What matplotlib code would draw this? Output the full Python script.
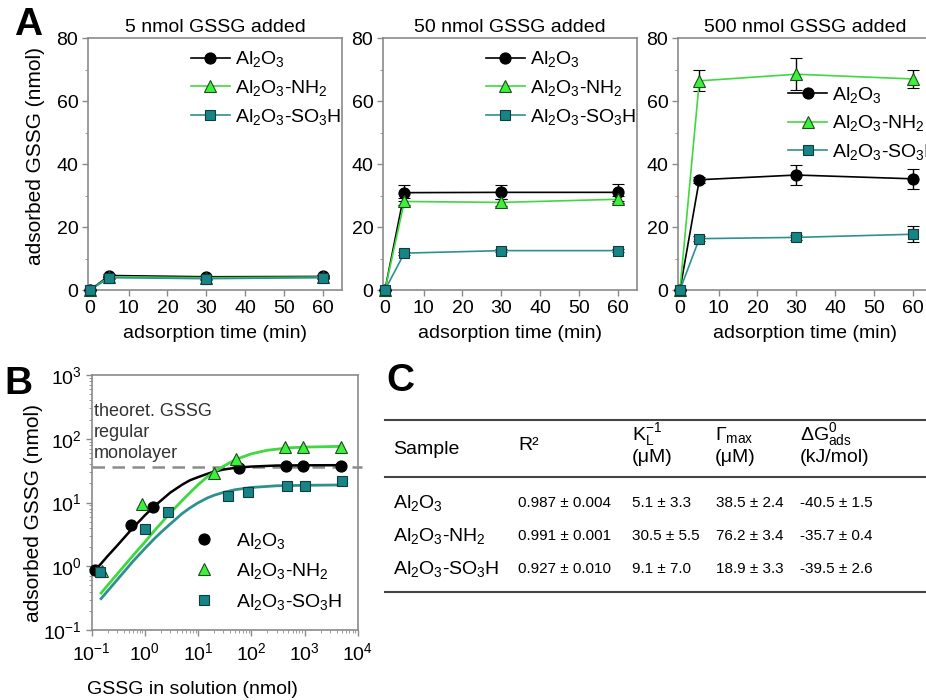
import numpy as np
import matplotlib
matplotlib.use('Agg')
import matplotlib.pyplot as plt
from matplotlib.lines import Line2D
from matplotlib.ticker import MultipleLocator, LogLocator, NullFormatter

plt.rcParams['font.family'] = ['Liberation Sans', 'DejaVu Sans']
plt.rcParams['mathtext.default'] = 'regular'
plt.rcParams['font.size'] = 14

W, H = 926, 700

# ---- data panel A (adsorbed GSSG vs time) ----
time_min = [0, 5, 30, 60]
added_nmol = ['5', '50', '500']
al2o3_a = [[0, 4.6, 4.2, 4.3], [0, 30.9, 31.0, 31.0], [0, 35.0, 36.5, 35.3]]
al2o3_err = [[0, 0.4, 0.4, 0.4], [0, 2.5, 2.2, 2.6], [0, 1.0, 3.2, 3.2]]
nh2_a = [[0, 4.2, 3.9, 4.1], [0, 28.1, 27.8, 28.8], [0, 66.4, 68.5, 67.0]]
nh2_err = [[0, 0.4, 0.4, 0.4], [0, 1.2, 1.2, 1.2], [0, 3.3, 5.0, 3.0]]
so3h_a = [[0, 3.9, 3.6, 3.9], [0, 11.7, 12.5, 12.5], [0, 16.3, 16.7, 17.7]]
so3h_err = [[0, 0.3, 0.3, 0.3], [0, 0.5, 0.5, 0.5], [0, 0.8, 0.8, 2.5]]

# ---- data panel B (isotherm) ----
al2o3_x = [0.115, 0.54, 1.39, 60, 453, 933, 4870]
al2o3_y = [0.865, 4.46, 8.55, 34.2, 37.7, 37.7, 37.3]
nh2_x = [0.154, 0.866, 19.7, 52, 433, 933, 4870]
nh2_y = [0.84, 9.4, 29.3, 48, 73, 75, 73]
so3h_x = [0.145, 1.0, 2.74, 36.5, 86.6, 473, 1000, 5080]
so3h_y = [0.82, 3.9, 7.1, 12.6, 14.4, 18.1, 18.2, 21.9]

# fitted curves
al2o3_fx = [0.11, 0.15, 0.2, 0.3, 0.5, 0.7, 1, 1.5, 2, 3, 5, 7, 10, 15, 20, 30, 50,
            100, 300, 1000, 5000]
al2o3_fy = [0.83, 1.1, 1.45, 2.1, 3.4, 4.6, 6.3, 8.7, 10.7, 14.3, 19, 22.3, 25, 28.2,
            30.5, 32.9, 35, 36.6, 38, 38.3, 38.5]
nh2_fx = [0.15, 0.3, 0.6, 1, 1.5, 2, 3, 5, 7, 10, 15, 20, 30, 50, 100, 200, 500, 1000,
          5000]
nh2_fy = [0.38, 0.75, 1.48, 2.4, 3.6, 4.7, 6.9, 10.7, 14.2, 19, 25.4, 30, 37, 47, 58,
          66, 72, 74, 76]
so3h_fx = [0.15, 0.3, 0.6, 1, 1.5, 2, 3, 5, 7, 10, 15, 20, 30, 50, 100, 300, 1000, 5000]
so3h_fy = [0.31, 0.61, 1.2, 1.9, 2.7, 3.4, 4.6, 6.7, 8.2, 9.9, 11.8, 13, 14.4, 15.9,
           17.2, 18.3, 18.6, 18.85]
monolayer = 35.5

# ---- table panel C ----
samples = ['Al$_2$O$_3$', 'Al$_2$O$_3$-NH$_2$', 'Al$_2$O$_3$-SO$_3$H']
r2 = ['0.987 ± 0.004', '0.991 ± 0.001', '0.927 ± 0.010']
kl_inv = ['5.1 ± 3.3', '30.5 ± 5.5', '9.1 ± 7.0']
gamma_max = ['38.5 ± 2.4', '76.2 ± 3.4', '18.9 ± 3.3']
dg_ads = ['-40.5 ± 1.5', '-35.7 ± 0.4', '-39.5 ± 2.6']

# styles
line_col = ['black', '#3fd83f', '#2f9090']
face_col = ['black', '#3cf03c', '#178585']
edge_col = ['black', '#1d4d1d', '#123c3c']
markers = ['o', '^', 's']
msizes = [8, 8.5, 7.5]
spine_col = '#8a8a8a'


def px(x, y):
    return x / W, 1 - y / H


fig = plt.figure(figsize=(W / 100, H / 100), dpi=100)


def style_box(ax):
    for s in ax.spines.values():
        s.set_color(spine_col)
        s.set_linewidth(1.2)
    ax.tick_params(direction='out', color=spine_col, length=4, width=1, pad=3)
    ax.tick_params(which='minor', direction='out', color=spine_col, length=2)


# ---- panel A ----
a_left = [88, 383, 678]
for i in range(3):
    ax = fig.add_axes([a_left[i] / W, 1 - 290 / H, 254 / W, 252 / H])
    series = [(al2o3_a[i], al2o3_err[i]), (nh2_a[i], nh2_err[i]), (so3h_a[i], so3h_err[i])]
    for k, (vals, err) in enumerate(series):
        ax.errorbar(time_min, vals, yerr=err, fmt=markers[k] + '-', color=line_col[k],
                    mfc=face_col[k], mec=edge_col[k], mew=0.8, ms=msizes[k], lw=1.2,
                    ecolor='black', elinewidth=1, capsize=4, capthick=1,
                    label=samples[k], zorder=3 + k, clip_on=False)
    ax.set_xlim(-0.5, 65)
    ax.set_ylim(0, 80)
    ax.xaxis.set_major_locator(MultipleLocator(10))
    ax.yaxis.set_major_locator(MultipleLocator(20))
    ax.yaxis.set_minor_locator(MultipleLocator(10))
    style_box(ax)
    ax.set_title(added_nmol[i] + ' nmol GSSG added', fontsize=14, pad=4)
    ax.set_xlabel('adsorption time (min)', fontsize=14)
    ax.xaxis.set_label_coords(0.5, -0.14)
    if i == 0:
        ax.set_ylabel('adsorbed GSSG (nmol)', fontsize=15)
        ax.yaxis.set_label_coords(-0.17, 0.53)
        leg_pos = (0.405, 0.955)
    elif i == 1:
        leg_pos = (0.405, 0.955)
    else:
        leg_pos = (0.435, 0.815)
    handles = [Line2D([], [], color=line_col[k], marker=markers[k], mfc=face_col[k],
                      mec=edge_col[k], mew=0.8, ms=msizes[k], lw=1.2) for k in range(3)]
    ax.legend(handles, samples, loc='upper left', bbox_to_anchor=leg_pos, frameon=False,
              borderpad=0, borderaxespad=0, handlelength=2.0, handletextpad=0.25,
              labelspacing=0.45, fontsize=14)

# ---- panel B ----
axb = fig.add_axes([91.7 / W, 1 - 630 / H, 266 / W, 255 / H])
axb.set_xscale('log')
axb.set_yscale('log')
fits = [(al2o3_fx, al2o3_fy), (nh2_fx, nh2_fy), (so3h_fx, so3h_fy)]
pts = [(al2o3_x, al2o3_y), (nh2_x, nh2_y), (so3h_x, so3h_y)]
fit_lw = [1.8, 2.0, 2.0]
for k in range(3):
    axb.plot(fits[k][0], fits[k][1], color=line_col[k], lw=fit_lw[k], zorder=2)
for k in range(3):
    axb.plot(pts[k][0], pts[k][1], ls='none', marker=markers[k], mfc=face_col[k],
             mec=edge_col[k], mew=0.8, ms=msizes[k], zorder=4 + k, clip_on=False)
axb.axhline(monolayer, xmin=0, xmax=1.015, ls='--', color='#8c8c8c', lw=1.8,
            dashes=(5, 3), clip_on=False, zorder=1)
axb.text(0.11, 360, 'theoret. GSSG\nregular\nmonolayer', fontsize=13, color='#333333',
         va='top', ha='left', linespacing=1.3)
axb.set_xlim(1e-1, 1e4)
axb.set_ylim(1e-1, 1e3)
axb.xaxis.set_major_locator(LogLocator(base=10, numticks=10))
axb.yaxis.set_major_locator(LogLocator(base=10, numticks=10))
axb.xaxis.set_minor_locator(LogLocator(base=10, subs=np.arange(2, 10), numticks=10))
axb.yaxis.set_minor_locator(LogLocator(base=10, subs=np.arange(2, 10), numticks=10))
axb.xaxis.set_minor_formatter(NullFormatter())
axb.yaxis.set_minor_formatter(NullFormatter())
style_box(axb)
axb.tick_params(axis='x', pad=5)
axb.set_ylabel('adsorbed GSSG (nmol)', fontsize=15)
axb.yaxis.set_label_coords(-0.183, 0.46)
axb.set_xlabel('GSSG in solution (nmol)', fontsize=14)
axb.xaxis.set_label_coords(0.38, -0.2)
hb = [Line2D([], [], ls='none', marker=markers[k], mfc=face_col[k], mec=edge_col[k],
             mew=0.8, ms=msizes[k]) for k in range(3)]
axb.legend(hb, samples, loc='upper left', bbox_to_anchor=(0.39, 0.39), frameon=False,
           borderpad=0, borderaxespad=0, handlelength=0.9, handletextpad=1.2,
           labelspacing=0.55, fontsize=14)

# ---- panel labels ----
for lab, (x, y) in zip(['A', 'B', 'C'], [(28, 25), (18, 384), (400, 381)]):
    fig.text(*px(x, y), lab, fontsize=28, fontweight='bold', ha='center', va='center')

# ---- panel C table ----
for y in [420, 477, 592]:
    fig.add_artist(Line2D([385 / W, 1.0], [1 - y / H, 1 - y / H], color='#444444', lw=1.5))

fig.text(*px(393, 449), 'Sample', fontsize=14, va='center')
fig.text(*px(518, 445), 'R²', fontsize=14, va='center')
fig.text(*px(632, 435), 'K$_L^{-1}$', fontsize=14, va='center')
fig.text(*px(632, 458), '(μM)', fontsize=14, va='center')
fig.text(*px(715, 435), 'Γ$_{max}$', fontsize=14, va='center')
fig.text(*px(715, 458), '(μM)', fontsize=14, va='center')
fig.text(*px(800, 435), 'ΔG$^0_{ads}$', fontsize=14, va='center')
fig.text(*px(800, 458), '(kJ/mol)', fontsize=14, va='center')

row_y = [503, 536, 569]
for j in range(3):
    fig.text(*px(393, row_y[j]), samples[j], fontsize=14, va='center')
    fig.text(*px(518, row_y[j]), r2[j], fontsize=11, va='center')
    fig.text(*px(632, row_y[j]), kl_inv[j], fontsize=11, va='center')
    fig.text(*px(716, row_y[j]), gamma_max[j], fontsize=11, va='center')
    fig.text(*px(800, row_y[j]), dg_ads[j], fontsize=11, va='center')

fig.savefig('out.png', dpi=100)
